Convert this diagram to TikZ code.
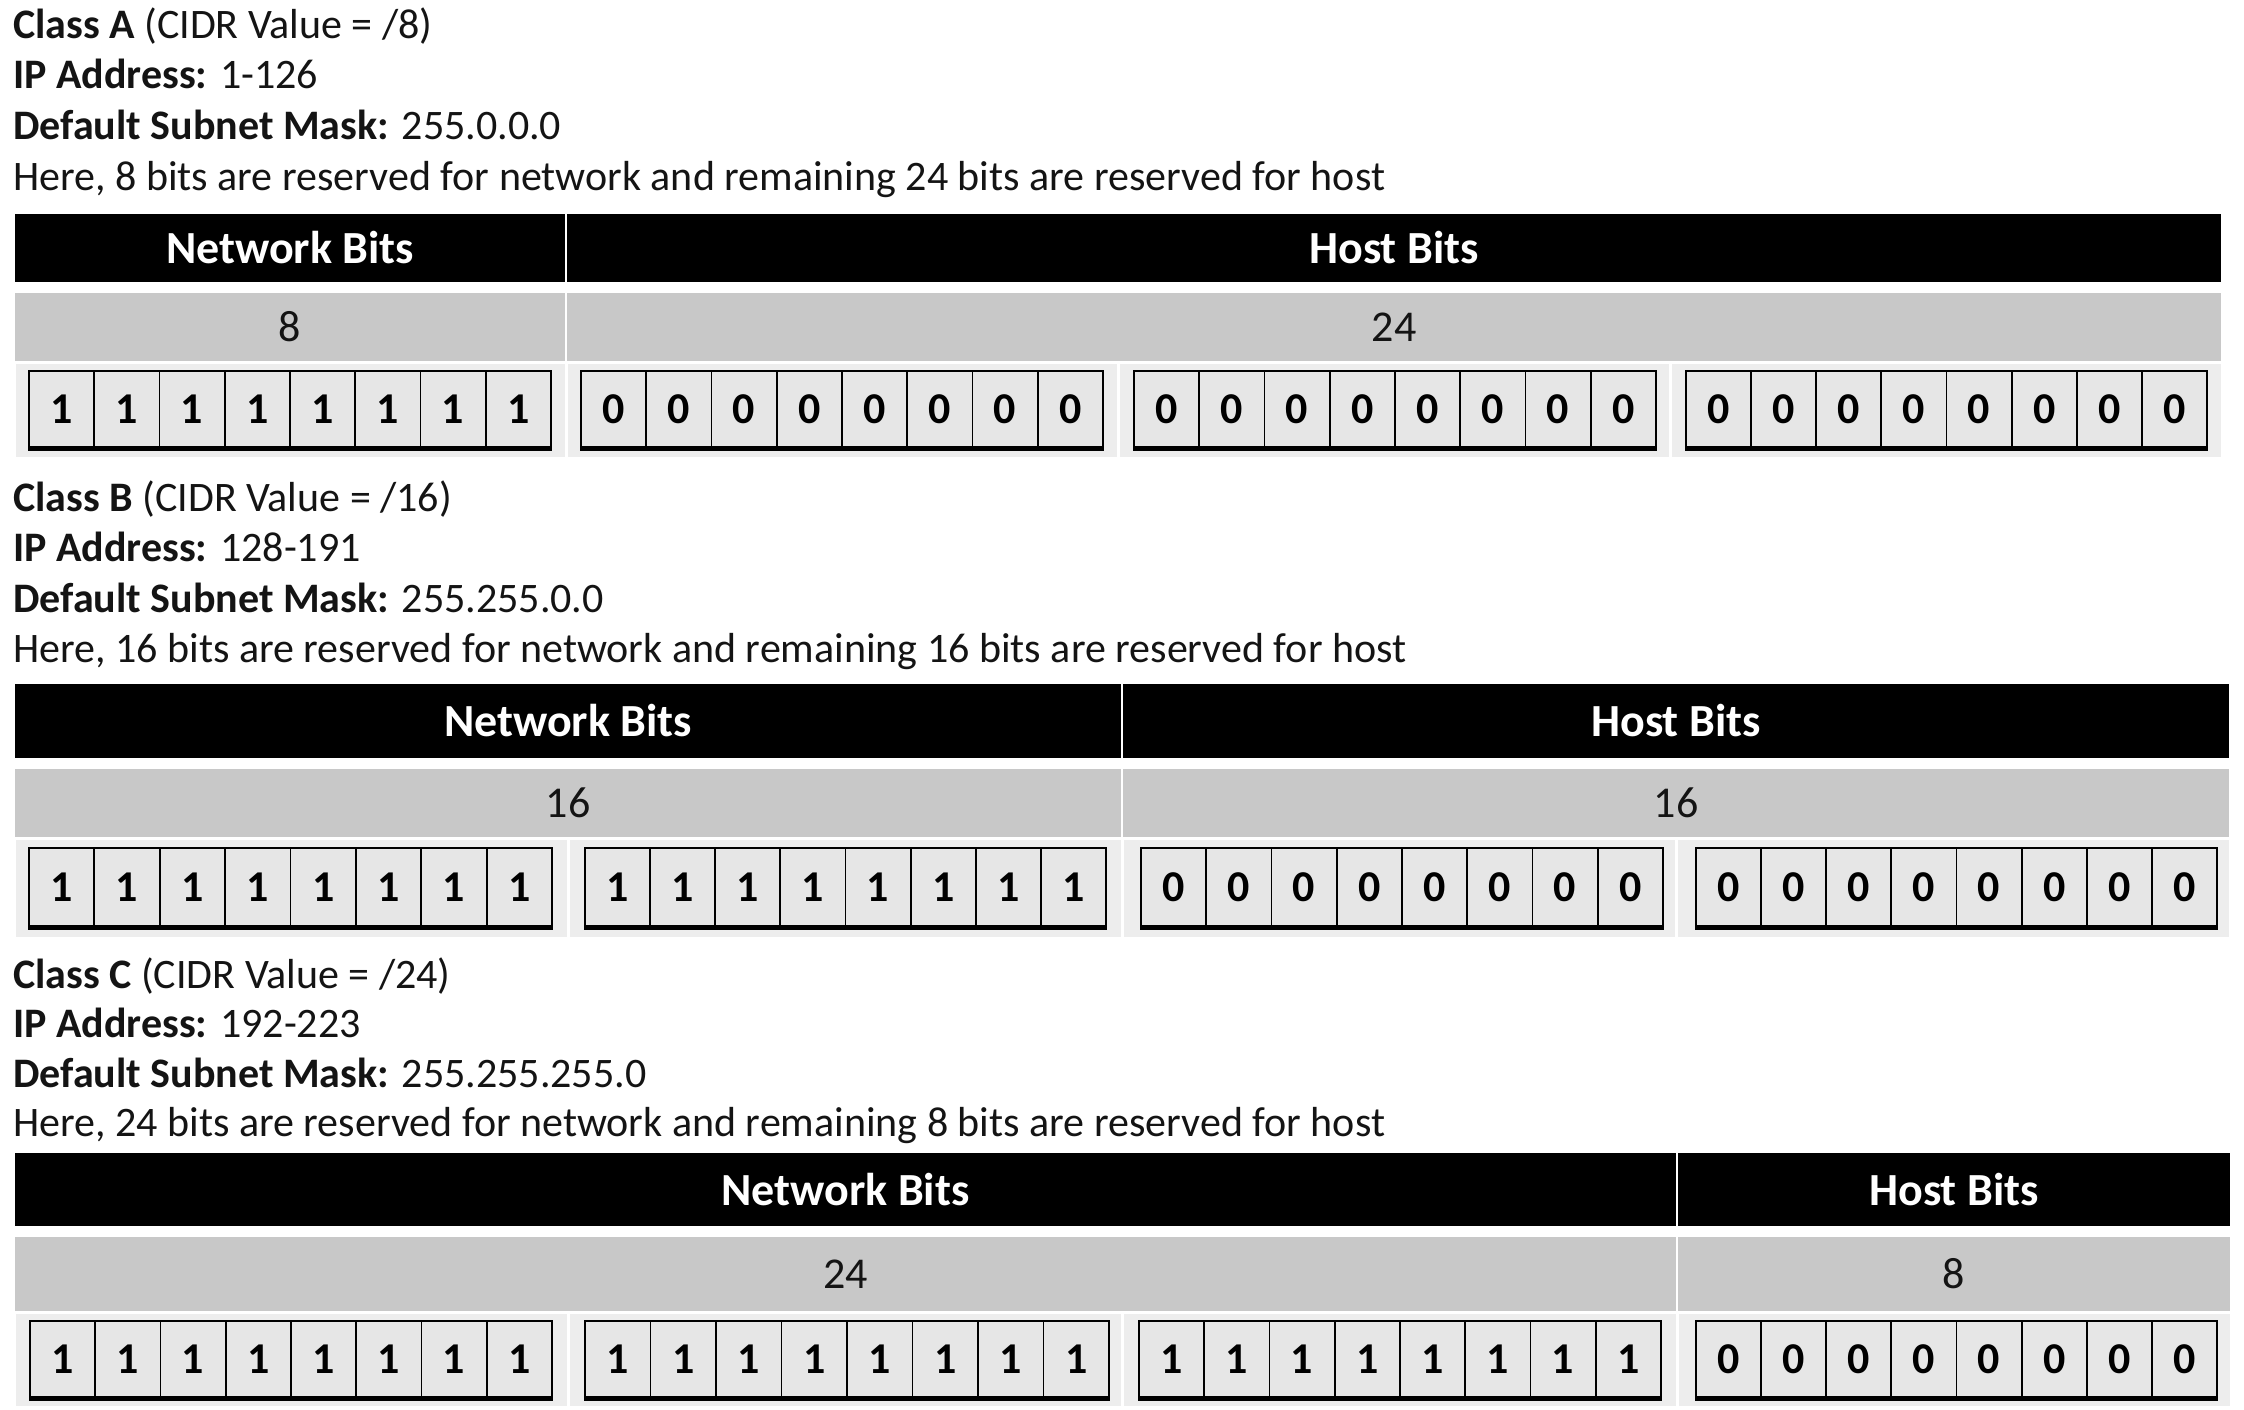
\documentclass[tikz,border=0pt]{standalone}
\usepackage{fontspec}
\setmainfont{Carlito}
\definecolor{rowgray}{HTML}{C8C8C8}
\definecolor{bitbg}{HTML}{EDEDED}
\definecolor{boxfill}{HTML}{E6E6E6}
\definecolor{ink}{HTML}{141414}
\tikzset{
 txtline/.style={anchor=base west, inner sep=0pt, text=ink, font=\fontsize{42}{50}\selectfont},
 hdrcell/.style={fill=black, draw=white, line width=2pt, text=white, font=\fontsize{46}{50}\selectfont\bfseries, inner sep=0pt},
 cntcell/.style={fill=rowgray, draw=white, line width=2pt, text=ink, font=\fontsize{44}{50}\selectfont, inner sep=0pt},
 bitcell/.style={fill=bitbg, draw=white, line width=3pt, inner sep=0pt},
 bitbox/.style={fill=boxfill, draw=black, line width=1.8pt, inner sep=0pt, text=black, font=\fontsize{44}{50}\selectfont\bfseries},
 thickbase/.style={draw=black, line width=5pt},
}
\newcommand\cellnode[7]{%
  \pgfmathsetmacro\cw{#5-#3}\pgfmathsetmacro\ch{#6-#4}%
  \node[#1, minimum width=\cw pt, minimum height=\ch pt] (#2) at ({(#3+#5)/2},{(#4+#6)/2}) {#7};}
\newcommand\bytegroup[6]{%
  \pgfmathsetmacro\bw{(#4-#2)/8}\pgfmathsetmacro\bh{#5-#3}%
  \foreach \i in {1,...,8}{%
    \pgfmathsetmacro\bx{#2+(\i-0.5)*\bw}%
    \node[bitbox, minimum width=\bw pt, minimum height=\bh pt] (#1-\i) at (\bx,{(#3+#5)/2}) {#6};}
  \draw[thickbase] (#1-1.south west) -- (#1-8.south east);}
\begin{document}
\begin{tikzpicture}[x=1pt,y=-1pt]
\useasboundingbox[fill=white] (0,0) rectangle (2244,1410);
% ---------- Class A ----------
\node[txtline] (a1) at (13,39) {\textbf{Class A} (CIDR Value = /8)};
\node[txtline] (a2) at (13,89) {\textbf{IP Address:} 1-126};
\node[txtline] (a3) at (13,140) {\textbf{Default Subnet Mask:} 255.0.0.0};
\node[txtline] (a4) at (13,190) {Here, 8 bits are reserved for network and remaining 24 bits are reserved for host};
\cellnode{hdrcell}{hA1}{14}{213}{566}{283}{Network Bits}
\cellnode{hdrcell}{hA2}{566}{213}{2222}{283}{Host Bits}
\cellnode{cntcell}{gA1}{14}{292}{566}{362}{8}
\cellnode{cntcell}{gA2}{566}{292}{2222}{362}{24}
\cellnode{bitcell}{cA1}{14}{362}{566}{458}{}
\cellnode{bitcell}{cA2}{566}{362}{1118}{458}{}
\cellnode{bitcell}{cA3}{1118}{362}{1670}{458}{}
\cellnode{bitcell}{cA4}{1670}{362}{2222}{458}{}
\bytegroup{A1}{29}{371}{551}{448}{1}
\bytegroup{A2}{581}{371}{1103}{448}{0}
\bytegroup{A3}{1134}{371}{1656}{448}{0}
\bytegroup{A4}{1686}{371}{2207}{448}{0}
% ---------- Class B ----------
\node[txtline] (b1) at (13,511) {\textbf{Class B} (CIDR Value = /16)};
\node[txtline] (b2) at (13,561) {\textbf{IP Address:} 128-191};
\node[txtline] (b3) at (13,612) {\textbf{Default Subnet Mask:} 255.255.0.0};
\node[txtline] (b4) at (13,662) {Here, 16 bits are reserved for network and remaining 16 bits are reserved for host};
\cellnode{hdrcell}{hB1}{14}{683}{1122}{759}{Network Bits}
\cellnode{hdrcell}{hB2}{1122}{683}{2230}{759}{Host Bits}
\cellnode{cntcell}{gB1}{14}{768}{1122}{838}{16}
\cellnode{cntcell}{gB2}{1122}{768}{2230}{838}{16}
\cellnode{bitcell}{cB1}{14}{838}{568}{938}{}
\cellnode{bitcell}{cB2}{568}{838}{1122}{938}{}
\cellnode{bitcell}{cB3}{1122}{838}{1676}{938}{}
\cellnode{bitcell}{cB4}{1676}{838}{2230}{938}{}
\bytegroup{B1}{29}{848}{552}{927}{1}
\bytegroup{B2}{585}{848}{1106}{927}{1}
\bytegroup{B3}{1141}{848}{1663}{927}{0}
\bytegroup{B4}{1696}{848}{2217}{927}{0}
% ---------- Class C ----------
\node[txtline] (k1) at (13,988) {\textbf{Class C} (CIDR Value = /24)};
\node[txtline] (k2) at (13,1037) {\textbf{IP Address:} 192-223};
\node[txtline] (k3) at (13,1087) {\textbf{Default Subnet Mask:} 255.255.255.0};
\node[txtline] (k4) at (13,1136) {Here, 24 bits are reserved for network and remaining 8 bits are reserved for host};
\cellnode{hdrcell}{hC1}{14}{1152}{1677}{1227}{Network Bits}
\cellnode{hdrcell}{hC2}{1677}{1152}{2231}{1227}{Host Bits}
\cellnode{cntcell}{gC1}{14}{1236}{1677}{1312}{24}
\cellnode{cntcell}{gC2}{1677}{1236}{2231}{1312}{8}
\cellnode{bitcell}{cC1}{14}{1312}{568}{1407}{}
\cellnode{bitcell}{cC2}{568}{1312}{1122}{1407}{}
\cellnode{bitcell}{cC3}{1122}{1312}{1677}{1407}{}
\cellnode{bitcell}{cC4}{1677}{1312}{2231}{1407}{}
\bytegroup{C1}{30}{1321}{552}{1398}{1}
\bytegroup{C2}{585}{1321}{1109}{1398}{1}
\bytegroup{C3}{1139}{1321}{1661}{1398}{1}
\bytegroup{C4}{1696}{1321}{2217}{1398}{0}
\end{tikzpicture}
\end{document}
